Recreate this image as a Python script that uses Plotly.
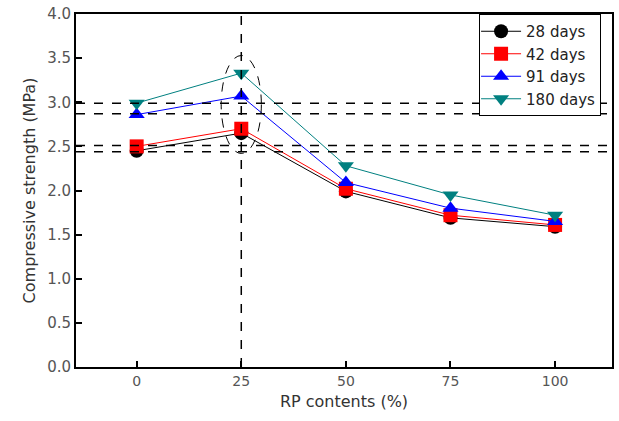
import plotly.graph_objects as go

rp = [0, 25, 50, 75, 100]
d28 = [2.45, 2.65, 1.99, 1.69, 1.59]
d42 = [2.50, 2.70, 2.02, 1.72, 1.61]
d91 = [2.86, 3.07, 2.09, 1.80, 1.65]
d180 = [2.99, 3.33, 2.28, 1.95, 1.72]
ref_lines = [2.99, 2.87, 2.51, 2.44]
ref_x = 25

series = [
    ("28 days", d28, "#000000", "circle"),
    ("42 days", d42, "#ff0000", "square"),
    ("91 days", d91, "#0000ff", "triangle-up"),
    ("180 days", d180, "#008080", "triangle-down"),
]

fig = go.Figure()
for name, vals, col, sym in series:
    fig.add_trace(go.Scatter(
        x=rp, y=vals, name=name, mode="lines+markers",
        line=dict(color=col, width=1),
        marker=dict(symbol=sym, size=14, color=col),
    ))

for yv in ref_lines:
    fig.add_shape(type="line", xref="paper", x0=0, x1=1, yref="y", y0=yv, y1=yv,
                  line=dict(color="black", width=1.5, dash="dash"))
fig.add_shape(type="line", xref="x", x0=ref_x, x1=ref_x, yref="paper", y0=0, y1=1,
              line=dict(color="black", width=1.5, dash="dash"))
fig.add_shape(type="circle", xref="x", yref="y", x0=20.2, x1=29.8, y0=2.42, y1=3.53,
              line=dict(color="black", width=1, dash="dash"))

font = "DejaVu Sans, Arial, sans-serif"
fig.update_layout(
    width=619, height=421,
    margin=dict(l=76, r=5, t=10, b=54),
    plot_bgcolor="white", paper_bgcolor="white",
    font=dict(family=font, size=14, color="#444"),
    legend=dict(x=0.752, y=1.0, xanchor="left", yanchor="top",
                bordercolor="black", borderwidth=1, bgcolor="white",
                font=dict(size=15, color="#222"), tracegroupgap=0,
                itemwidth=40, indentation=-4),
    xaxis=dict(range=[-14.5, 113.6], tickvals=rp, ticktext=[str(v) for v in rp],
               ticks="inside", ticklen=6, tickwidth=2, tickcolor="black",
               showline=True, linecolor="black", linewidth=2, mirror=True,
               showgrid=False, zeroline=False,
               title=dict(text="RP contents (%)", font=dict(size=16, color="#333"), standoff=8),
               tickfont=dict(size=14, color="#555")),
    yaxis=dict(range=[0, 4.0], dtick=0.5, tickformat=".1f",
               ticks="inside", ticklen=6, tickwidth=2, tickcolor="black",
               showline=True, linecolor="black", linewidth=2, mirror=True,
               showgrid=False, zeroline=False,
               title=dict(text="Compressive strength (MPa)", font=dict(size=16, color="#333"), standoff=8),
               tickfont=dict(size=15, color="#555")),
)

fig.write_html("out.html")
